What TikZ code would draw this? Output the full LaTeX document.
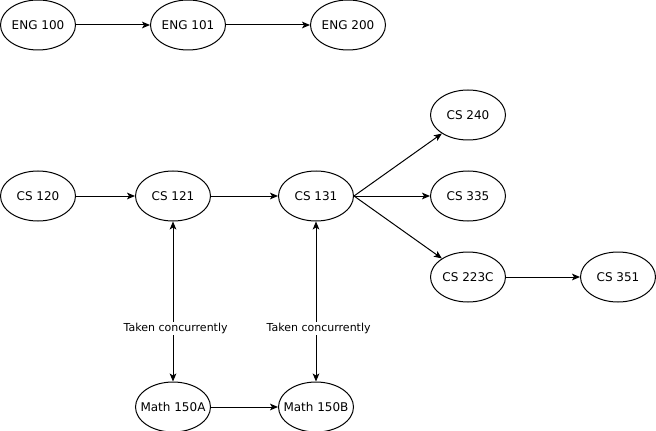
\documentclass[tikz,border=0pt]{standalone}
\usepackage{fontspec}
\setmainfont{DejaVu Sans}
\usepackage{tikz}
\usetikzlibrary{shapes.geometric, arrows.meta, positioning}

\begin{document}
\begin{tikzpicture}[
    x=0.75pt, y=-0.75pt,
    course/.style={ellipse, draw, line width=0.75pt, minimum width=56.25pt, minimum height=37.5pt, inner xsep=-5pt, inner ysep=0pt, font=\fontsize{9}{11}\selectfont},
    prereq/.style={-{Stealth[length=6pt, width=5pt, inset=1.5pt]}, line width=0.75pt},
    coreq/.style={{Stealth[length=6pt, width=5pt, inset=1.5pt]}-{Stealth[length=6pt, width=5pt, inset=1.5pt]}, line width=0.75pt},
    note/.style={fill=white, inner sep=1pt, font=\fontsize{8.25}{10}\selectfont}
]
\useasboundingbox (0,0) rectangle (656,431);

% Nodes
\node[course] (eng100) at (38,25) {ENG 100};
\node[course, right=55.5pt of eng100] (eng101) {ENG 101};
\node[course, right=63pt of eng101] (eng200) {ENG 200};

\node[course, below=90pt of eng100] (cs120) {CS 120};
\node[course, right=44.25pt of cs120] (cs121) {CS 121};
\node[course, right=50.25pt of cs121] (cs131) {CS 131};
\node[course, right=57pt of cs131] (cs335) {CS 335};
\node[course, above=22.5pt of cs335] (cs240) {CS 240};
\node[course, below=22.5pt of cs335] (cs223c) {CS 223C};
\node[course, right=55.5pt of cs223c] (cs351) {CS 351};

\node[course, below=120pt of cs121] (math150a) {Math 150A};
\node[course, below=120pt of cs131] (math150b) {Math 150B};

% Connections
\draw[prereq] (eng100) -- (eng101);
\draw[prereq] (eng101) -- (eng200);
\draw[prereq] (cs120) -- (cs121);
\draw[prereq] (cs121) -- (cs131);
\draw[prereq] (cs131.east) -- (cs240);
\draw[prereq] (cs131) -- (cs335);
\draw[prereq] (cs131.east) -- (cs223c);
\draw[prereq] (cs223c) -- (cs351);
\draw[prereq] (math150a) -- (math150b);
\draw[coreq] (cs121) -- (math150a) node[note, pos=0.67, xshift=2pt] {Taken concurrently};
\draw[coreq] (cs131) -- (math150b) node[note, pos=0.67, xshift=2pt] {Taken concurrently};

\end{tikzpicture}
\end{document}
